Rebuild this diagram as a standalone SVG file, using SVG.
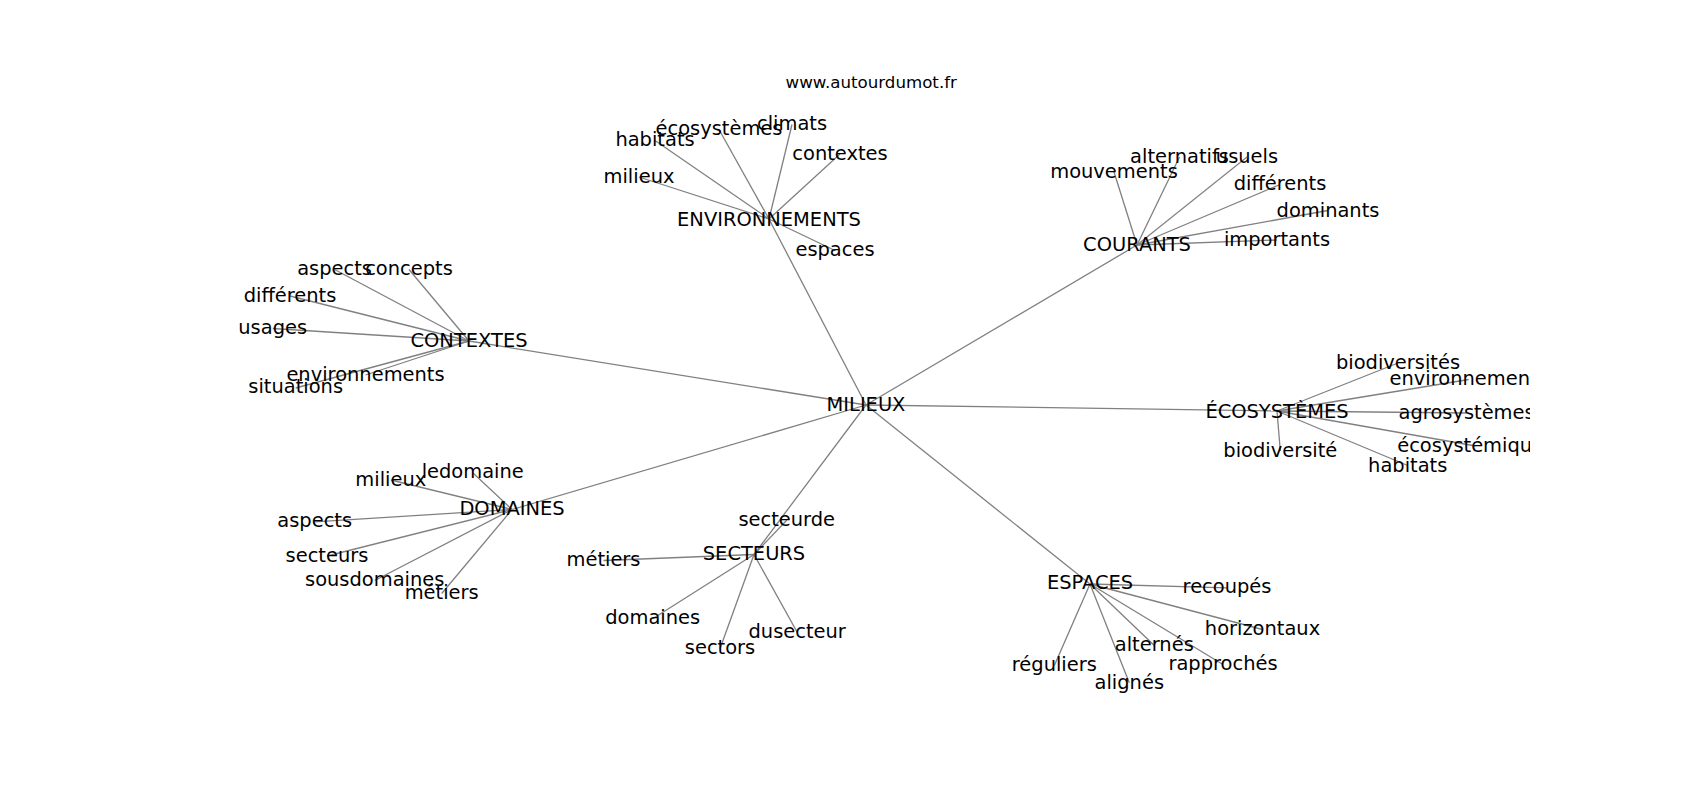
<svg xmlns="http://www.w3.org/2000/svg" width="1700" height="800" viewBox="0 0 1700 800">
<defs>
<style>
.e{stroke:#808080;stroke-width:1.3;fill:none}
.l{font-family:"DejaVu Sans","Liberation Sans",sans-serif;font-size:19.44px;text-anchor:middle;fill:#000}
.t{font-family:"DejaVu Sans","Liberation Sans",sans-serif;font-size:16.67px;text-anchor:middle;fill:#000}
</style>
<clipPath id="ax"><rect x="212.5" y="96" width="1317.5" height="616"/></clipPath>
</defs>
<rect x="0" y="0" width="1700" height="800" fill="#fff"/>
<text class="t" x="871.25" y="87.7">www.autourdumot.fr</text>
<g clip-path="url(#ax)">
<g id="connectors">
<line class="e" x1="866" y1="405" x2="769" y2="219"/>
<line class="e" x1="866" y1="405" x2="1137" y2="245"/>
<line class="e" x1="866" y1="405" x2="1277" y2="411"/>
<line class="e" x1="866" y1="405" x2="469" y2="341"/>
<line class="e" x1="866" y1="405" x2="512" y2="509.5"/>
<line class="e" x1="866" y1="405" x2="754" y2="554.5"/>
<line class="e" x1="866" y1="405" x2="1090" y2="584"/>
<line class="e" x1="769" y1="219" x2="655" y2="140.5"/>
<line class="e" x1="769" y1="219" x2="719" y2="129.5"/>
<line class="e" x1="769" y1="219" x2="792" y2="124.5"/>
<line class="e" x1="769" y1="219" x2="840" y2="154"/>
<line class="e" x1="769" y1="219" x2="639" y2="177"/>
<line class="e" x1="769" y1="219" x2="835" y2="250.5"/>
<line class="e" x1="1137" y1="245" x2="1114" y2="172"/>
<line class="e" x1="1137" y1="245" x2="1179.5" y2="157"/>
<line class="e" x1="1137" y1="245" x2="1247" y2="157"/>
<line class="e" x1="1137" y1="245" x2="1280" y2="184.5"/>
<line class="e" x1="1137" y1="245" x2="1328" y2="210.5"/>
<line class="e" x1="1137" y1="245" x2="1277" y2="240"/>
<line class="e" x1="1277" y1="411" x2="1398" y2="363"/>
<line class="e" x1="1277" y1="411" x2="1468.7" y2="379.5"/>
<line class="e" x1="1277" y1="411" x2="1466.6" y2="413"/>
<line class="e" x1="1277" y1="411" x2="1475.7" y2="446"/>
<line class="e" x1="1277" y1="411" x2="1407.7" y2="465.5"/>
<line class="e" x1="1277" y1="411" x2="1280.3" y2="451"/>
<line class="e" x1="469" y1="341" x2="334.6" y2="269.5"/>
<line class="e" x1="469" y1="341" x2="409" y2="269.5"/>
<line class="e" x1="469" y1="341" x2="290" y2="296"/>
<line class="e" x1="469" y1="341" x2="272.7" y2="328.5"/>
<line class="e" x1="469" y1="341" x2="365.5" y2="375"/>
<line class="e" x1="469" y1="341" x2="295.7" y2="388"/>
<line class="e" x1="512" y1="509.5" x2="472.7" y2="472.8"/>
<line class="e" x1="512" y1="509.5" x2="390.8" y2="480"/>
<line class="e" x1="512" y1="509.5" x2="314.7" y2="521.8"/>
<line class="e" x1="512" y1="509.5" x2="327" y2="556"/>
<line class="e" x1="512" y1="509.5" x2="374.7" y2="580.5"/>
<line class="e" x1="512" y1="509.5" x2="441.7" y2="593.5"/>
<line class="e" x1="754" y1="554.5" x2="786.7" y2="520.2"/>
<line class="e" x1="754" y1="554.5" x2="603.5" y2="560.5"/>
<line class="e" x1="754" y1="554.5" x2="652.7" y2="618.8"/>
<line class="e" x1="754" y1="554.5" x2="720" y2="648.8"/>
<line class="e" x1="754" y1="554.5" x2="797.2" y2="632.2"/>
<line class="e" x1="1090" y1="584" x2="1227" y2="587.8"/>
<line class="e" x1="1090" y1="584" x2="1262.5" y2="629.5"/>
<line class="e" x1="1090" y1="584" x2="1154.3" y2="645.5"/>
<line class="e" x1="1090" y1="584" x2="1223" y2="664.5"/>
<line class="e" x1="1090" y1="584" x2="1054.3" y2="665.5"/>
<line class="e" x1="1090" y1="584" x2="1129.3" y2="682.8"/>
</g>
<g id="n-milieux"><text class="l" x="866" y="410.5">MILIEUX</text></g>
<g id="n-environnements"><text class="l" x="769" y="226.3">ENVIRONNEMENTS</text></g>
<g id="n-courants"><text class="l" x="1137" y="250.7">COURANTS</text></g>
<g id="n-ecosystemes"><text class="l" x="1277" y="418.3">ÉCOSYSTÈMES</text></g>
<g id="n-contextes"><text class="l" x="469" y="346.7">CONTEXTES</text></g>
<g id="n-domaines"><text class="l" x="512" y="515">DOMAINES</text></g>
<g id="n-secteurs"><text class="l" x="754" y="560">SECTEURS</text></g>
<g id="n-espaces"><text class="l" x="1090" y="589">ESPACES</text></g>
<g id="n-env-habitats"><text class="l" x="655" y="146">habitats</text></g>
<g id="n-env-ecosystemes"><text class="l" x="719" y="135">écosystèmes</text></g>
<g id="n-env-climats"><text class="l" x="792" y="130">climats</text></g>
<g id="n-env-contextes"><text class="l" x="840" y="159.5">contextes</text></g>
<g id="n-env-milieux"><text class="l" x="639" y="182.5">milieux</text></g>
<g id="n-env-espaces"><text class="l" x="835" y="256">espaces</text></g>
<g id="n-cou-mouvements"><text class="l" x="1114" y="177.5">mouvements</text></g>
<g id="n-cou-alternatifs"><text class="l" x="1179.5" y="162.5">alternatifs</text></g>
<g id="n-cou-usuels"><text class="l" x="1247" y="162.5">usuels</text></g>
<g id="n-cou-differents"><text class="l" x="1280" y="190">différents</text></g>
<g id="n-cou-dominants"><text class="l" x="1328" y="216.5">dominants</text></g>
<g id="n-cou-importants"><text class="l" x="1277" y="245.5">importants</text></g>
<g id="n-eco-biodiversites"><text class="l" x="1398" y="368.5">biodiversités</text></g>
<g id="n-eco-environnements"><text class="l" x="1468.7" y="385">environnements</text></g>
<g id="n-eco-agrosystemes"><text class="l" x="1466.6" y="418.5">agrosystèmes</text></g>
<g id="n-eco-ecosystemiques"><text class="l" x="1475.7" y="451.5">écosystémiques</text></g>
<g id="n-eco-habitats"><text class="l" x="1407.7" y="471.5">habitats</text></g>
<g id="n-eco-biodiversite"><text class="l" x="1280.3" y="456.7">biodiversité</text></g>
<g id="n-ctx-aspects"><text class="l" x="334.6" y="275">aspects</text></g>
<g id="n-ctx-concepts"><text class="l" x="409" y="275">concepts</text></g>
<g id="n-ctx-differents"><text class="l" x="290" y="301.5">différents</text></g>
<g id="n-ctx-usages"><text class="l" x="272.7" y="334">usages</text></g>
<g id="n-ctx-environnements"><text class="l" x="365.5" y="380.7">environnements</text></g>
<g id="n-ctx-situations"><text class="l" x="295.7" y="393.3">situations</text></g>
<g id="n-dom-ledomaine"><text class="l" x="472.7" y="478.3">ledomaine</text></g>
<g id="n-dom-milieux"><text class="l" x="390.8" y="485.7">milieux</text></g>
<g id="n-dom-aspects"><text class="l" x="314.7" y="527.3">aspects</text></g>
<g id="n-dom-secteurs"><text class="l" x="327" y="561.7">secteurs</text></g>
<g id="n-dom-sousdomaines"><text class="l" x="374.7" y="586">sousdomaines</text></g>
<g id="n-dom-metiers"><text class="l" x="441.7" y="599">métiers</text></g>
<g id="n-sec-secteurde"><text class="l" x="786.7" y="525.7">secteurde</text></g>
<g id="n-sec-metiers"><text class="l" x="603.5" y="566">métiers</text></g>
<g id="n-sec-domaines"><text class="l" x="652.7" y="624.3">domaines</text></g>
<g id="n-sec-sectors"><text class="l" x="720" y="654.3">sectors</text></g>
<g id="n-sec-dusecteur"><text class="l" x="797.2" y="637.7">dusecteur</text></g>
<g id="n-esp-recoupes"><text class="l" x="1227" y="593.3">recoupés</text></g>
<g id="n-esp-horizontaux"><text class="l" x="1262.5" y="635">horizontaux</text></g>
<g id="n-esp-alternes"><text class="l" x="1154.3" y="651">alternés</text></g>
<g id="n-esp-rapproches"><text class="l" x="1223" y="670">rapprochés</text></g>
<g id="n-esp-reguliers"><text class="l" x="1054.3" y="671">réguliers</text></g>
<g id="n-esp-alignes"><text class="l" x="1129.3" y="689.3">alignés</text></g>
</g>
</svg>
